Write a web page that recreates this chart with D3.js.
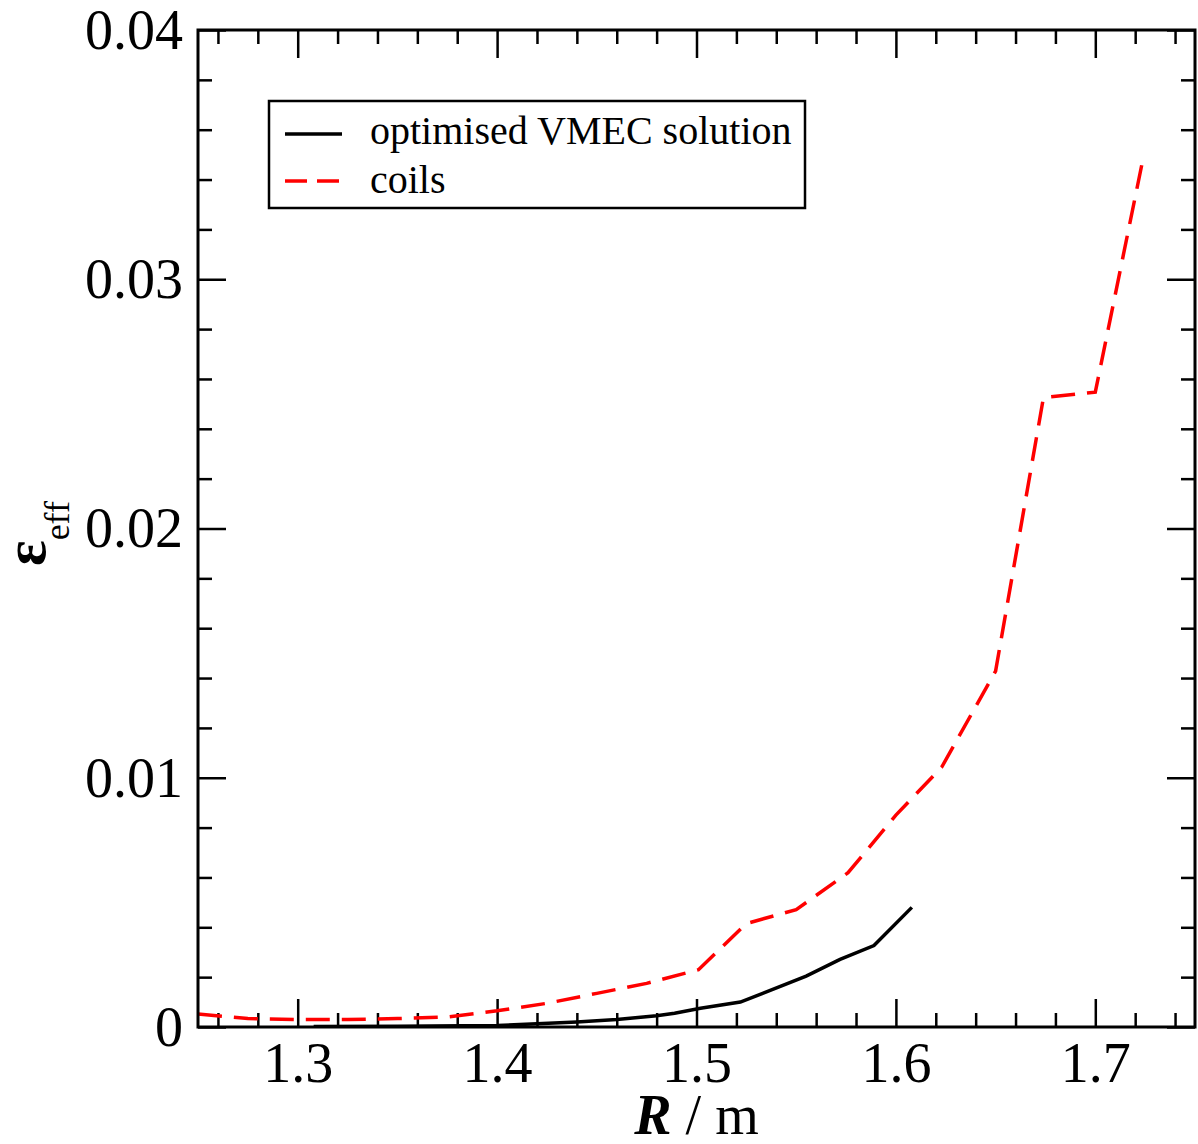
<!DOCTYPE html>
<html>
<head>
<meta charset="utf-8">
<script src="https://cdn.jsdelivr.net/npm/d3@7"></script>
<style>
  body { margin: 0; background: #fff; }
  svg { display: block; }
  text { font-family: "Liberation Serif", "Times New Roman", serif; fill: #000; }
</style>
</head>
<body>
<div id="chart"></div>
<script>
// data
const vmecR   = [1.308, 1.35, 1.40, 1.42, 1.44, 1.46, 1.48, 1.489, 1.502, 1.522, 1.555, 1.572, 1.589, 1.608];
const vmecEps = [0.00002, 0.00003, 0.00006, 0.00013, 0.0002, 0.0003, 0.00045, 0.00055, 0.00075, 0.00100, 0.00204, 0.00271, 0.00327, 0.00480];

const coilsR   = [1.25, 1.275, 1.30, 1.325, 1.35, 1.375, 1.40, 1.425, 1.45, 1.475, 1.501, 1.525, 1.550, 1.576, 1.600, 1.623, 1.650, 1.674, 1.700, 1.724];
const coilsEps = [0.00052, 0.00034, 0.00030, 0.00030, 0.00034, 0.00040, 0.00065, 0.00095, 0.00135, 0.00175, 0.00230, 0.00415, 0.00471, 0.00619, 0.0085, 0.01043, 0.01428, 0.02525, 0.02547, 0.03486];

const seriesNames = ["optimised VMEC solution", "coils"];

const xTicks = [1.3, 1.4, 1.5, 1.6, 1.7];
const xTickLabels = ["1.3", "1.4", "1.5", "1.6", "1.7"];
const yTicks = [0, 0.01, 0.02, 0.03, 0.04];
const yTickLabels = ["0", "0.01", "0.02", "0.03", "0.04"];

const W = 1198, H = 1144;
const margin = { top: 30, right: 3, bottom: 117, left: 198 };
const width = W - margin.left - margin.right;
const height = H - margin.top - margin.bottom;

const svg = d3.select("#chart").append("svg")
  .attr("width", W)
  .attr("height", H);

const g = svg.append("g")
  .attr("transform", `translate(${margin.left},${margin.top})`);

const x = d3.scaleLinear().domain([1.25, 1.75]).range([0, width]);
const y = d3.scaleLinear().domain([0, 0.04]).range([height, 0]);

const xMinor = d3.range(1.26, 1.745, 0.02).filter(v => !xTicks.some(t => Math.abs(t - v) < 1e-6));
const yMinor = d3.range(0.002, 0.0399, 0.002).filter(v => !yTicks.some(t => Math.abs(t - v) < 1e-9));

const MAJOR = 28, MINOR = 14;
const DASH = "24,12";

function styleAxis(sel) {
  sel.select(".domain").remove();
  sel.selectAll(".tick line").attr("stroke", "#000").attr("stroke-width", 2.5);
}

// bottom
g.append("g").attr("transform", `translate(0,${height})`)
  .call(d3.axisBottom(x).tickValues(xTicks).tickSize(-MAJOR)
    .tickFormat((d, i) => xTickLabels[i]))
  .call(styleAxis)
  .call(a => a.selectAll("text")
    .attr("y", 55).attr("dy", 0)
    .style("font-size", "56px"));
g.append("g").attr("transform", `translate(0,${height})`)
  .call(d3.axisBottom(x).tickValues(xMinor).tickSize(-MINOR).tickFormat(""))
  .call(styleAxis);

// top
g.append("g")
  .call(d3.axisTop(x).tickValues(xTicks).tickSize(-MAJOR).tickFormat(""))
  .call(styleAxis);
g.append("g")
  .call(d3.axisTop(x).tickValues(xMinor).tickSize(-MINOR).tickFormat(""))
  .call(styleAxis);

// left
g.append("g")
  .call(d3.axisLeft(y).tickValues(yTicks).tickSize(-MAJOR)
    .tickFormat((d, i) => yTickLabels[i]))
  .call(styleAxis)
  .call(a => a.selectAll("text")
    .attr("x", -15).attr("dy", "0.33em")
    .attr("text-anchor", "end")
    .style("font-size", "56px"));
g.append("g")
  .call(d3.axisLeft(y).tickValues(yMinor).tickSize(-MINOR).tickFormat(""))
  .call(styleAxis);

// right
g.append("g").attr("transform", `translate(${width},0)`)
  .call(d3.axisRight(y).tickValues(yTicks).tickSize(-MAJOR).tickFormat(""))
  .call(styleAxis);
g.append("g").attr("transform", `translate(${width},0)`)
  .call(d3.axisRight(y).tickValues(yMinor).tickSize(-MINOR).tickFormat(""))
  .call(styleAxis);

// data
g.append("clipPath").attr("id", "plot-clip")
  .append("rect").attr("width", width).attr("height", height);

const line = d3.line()
  .x(d => x(d[0]))
  .y(d => y(d[1]));

const plot = g.append("g").attr("clip-path", "url(#plot-clip)");

plot.append("path")
  .datum(coilsR.map((r, i) => [r, coilsEps[i]]))
  .attr("fill", "none")
  .attr("stroke", "#ff0000")
  .attr("stroke-width", 3.5)
  .attr("stroke-dasharray", DASH)
  .attr("d", line);

plot.append("path")
  .datum(vmecR.map((r, i) => [r, vmecEps[i]]))
  .attr("fill", "none")
  .attr("stroke", "#000")
  .attr("stroke-width", 3.5)
  .attr("d", line);

// frame
g.append("rect")
  .attr("width", width).attr("height", height)
  .attr("fill", "none").attr("stroke", "#000").attr("stroke-width", 3);

// legend
const legend = svg.append("g").attr("transform", "translate(269,101)");
legend.append("rect")
  .attr("width", 536).attr("height", 107)
  .attr("fill", "#fff").attr("stroke", "#000").attr("stroke-width", 2.5);

const legendStyles = [
  { stroke: "#000", dash: null },
  { stroke: "#ff0000", dash: "22,10" }
];
seriesNames.forEach((name, i) => {
  const ly = 33 + i * 47;
  legend.append("line")
    .attr("x1", 16).attr("x2", 73)
    .attr("y1", ly).attr("y2", ly)
    .attr("stroke", legendStyles[i].stroke)
    .attr("stroke-width", 3.5)
    .attr("stroke-dasharray", legendStyles[i].dash);
  legend.append("text")
    .attr("x", 101).attr("y", ly + 10 + i * 2)
    .style("font-size", "40px")
    .text(name);
});

// axis titles
const xTitle = svg.append("text")
  .attr("x", margin.left + width / 2).attr("y", 1134)
  .attr("text-anchor", "middle")
  .style("font-size", "56px");
xTitle.append("tspan").style("font-weight", "bold").style("font-style", "italic").text("R");
xTitle.append("tspan").text(" / m");

const yTitle = svg.append("text")
  .attr("transform", "translate(45,566) rotate(-90)");
yTitle.append("tspan").style("font-size", "60px").style("font-weight", "bold").text("ε");
yTitle.append("tspan").attr("dy", 24).style("font-size", "36px").text("eff");
</script>
</body>
</html>
